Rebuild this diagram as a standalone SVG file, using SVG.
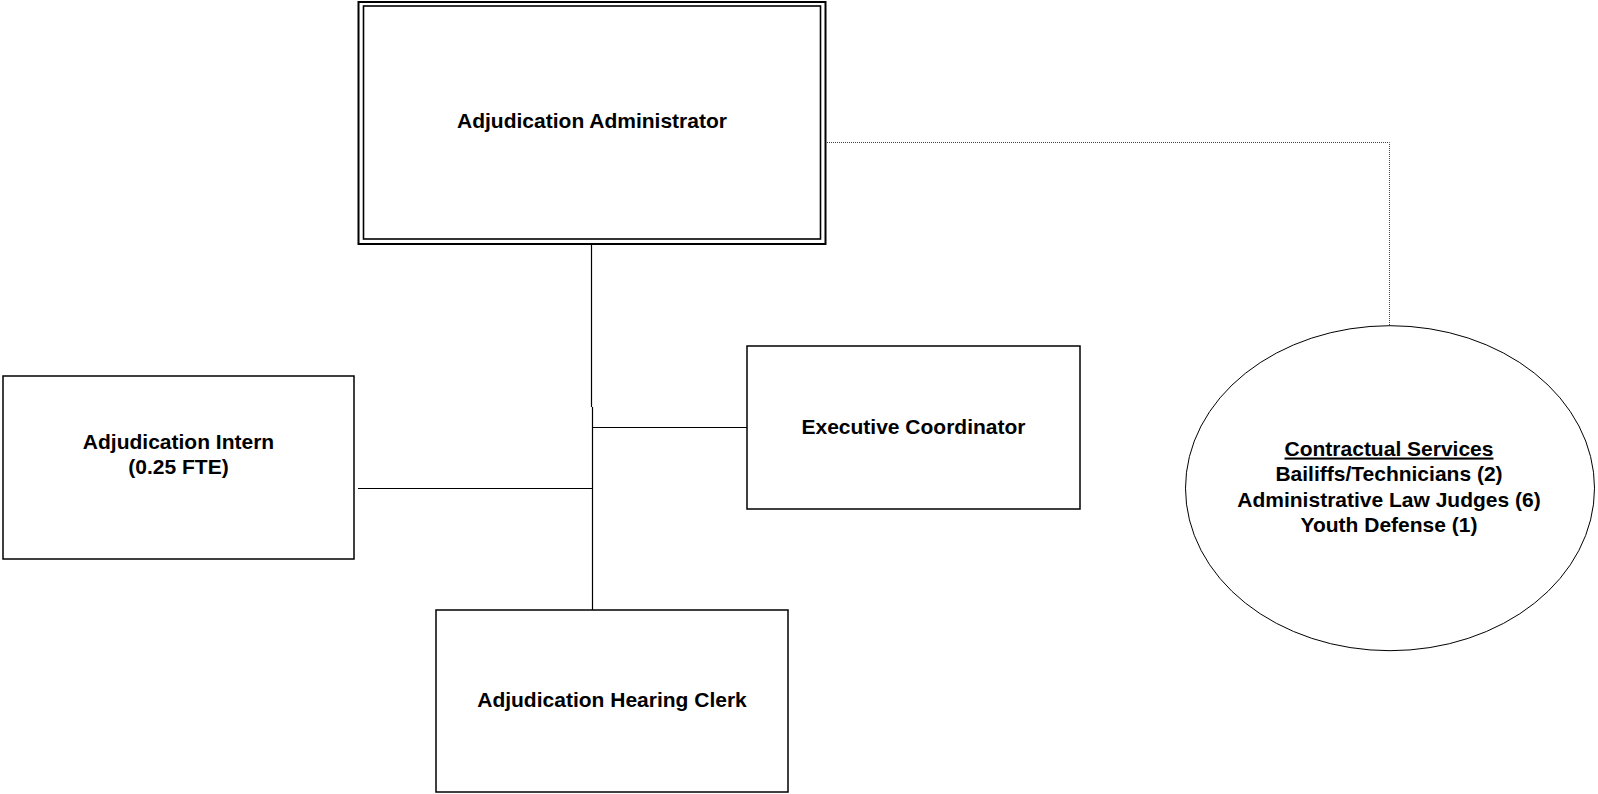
<svg xmlns="http://www.w3.org/2000/svg" width="1598" height="794" viewBox="0 0 1598 794">
<style>
.box{fill:#fff;stroke:#000;stroke-width:1.5}
.lbl{font-family:"Liberation Sans",Arial,sans-serif;font-weight:bold;font-size:21px;fill:#000;text-anchor:middle}
.conn{fill:none;stroke:#000;stroke-width:1.2}
.dot{fill:none;stroke:#444;stroke-width:1;stroke-dasharray:1 1}
</style>
<rect x="0" y="0" width="1598" height="794" fill="#fff"/>
<g id="connectors">
<polyline class="conn" points="591.5,245 591.5,407"/>
<polyline class="conn" points="592.5,407 592.5,610"/>
<line class="conn" x1="592" y1="427.5" x2="747" y2="427.5"/>
<line class="conn" x1="358" y1="488.5" x2="592" y2="488.5"/>
<polyline class="dot" points="827,142.5 1389.5,142.5 1389.5,326"/>
</g>
<g id="adjudication-administrator">
<rect x="358.5" y="2" width="467" height="242" fill="#fff" stroke="#000" stroke-width="2"/>
<rect x="363.5" y="6" width="457" height="233" fill="none" stroke="#000" stroke-width="1.6"/>
<text class="lbl" x="592" y="128">Adjudication Administrator</text>
</g>
<g id="executive-coordinator">
<rect class="box" x="747" y="346" width="333" height="163"/>
<text class="lbl" x="913.5" y="434">Executive Coordinator</text>
</g>
<g id="adjudication-intern">
<rect class="box" x="3" y="376" width="351" height="183"/>
<text class="lbl" x="178.5" y="449">Adjudication Intern</text>
<text class="lbl" x="178.5" y="474">(0.25 FTE)</text>
</g>
<g id="adjudication-hearing-clerk">
<rect class="box" x="436" y="610" width="352" height="182"/>
<text class="lbl" x="612" y="707">Adjudication Hearing Clerk</text>
</g>
<g id="contractual-services">
<ellipse cx="1390" cy="488.2" rx="204.5" ry="162.5" fill="#fff" stroke="#000" stroke-width="1"/>
<text class="lbl" x="1389" y="455.5" text-decoration="underline">Contractual Services</text>
<text class="lbl" x="1389" y="481">Bailiffs/Technicians (2)</text>
<text class="lbl" x="1389" y="506.5">Administrative Law Judges (6)</text>
<text class="lbl" x="1389" y="532">Youth Defense (1)</text>
</g>
</svg>
